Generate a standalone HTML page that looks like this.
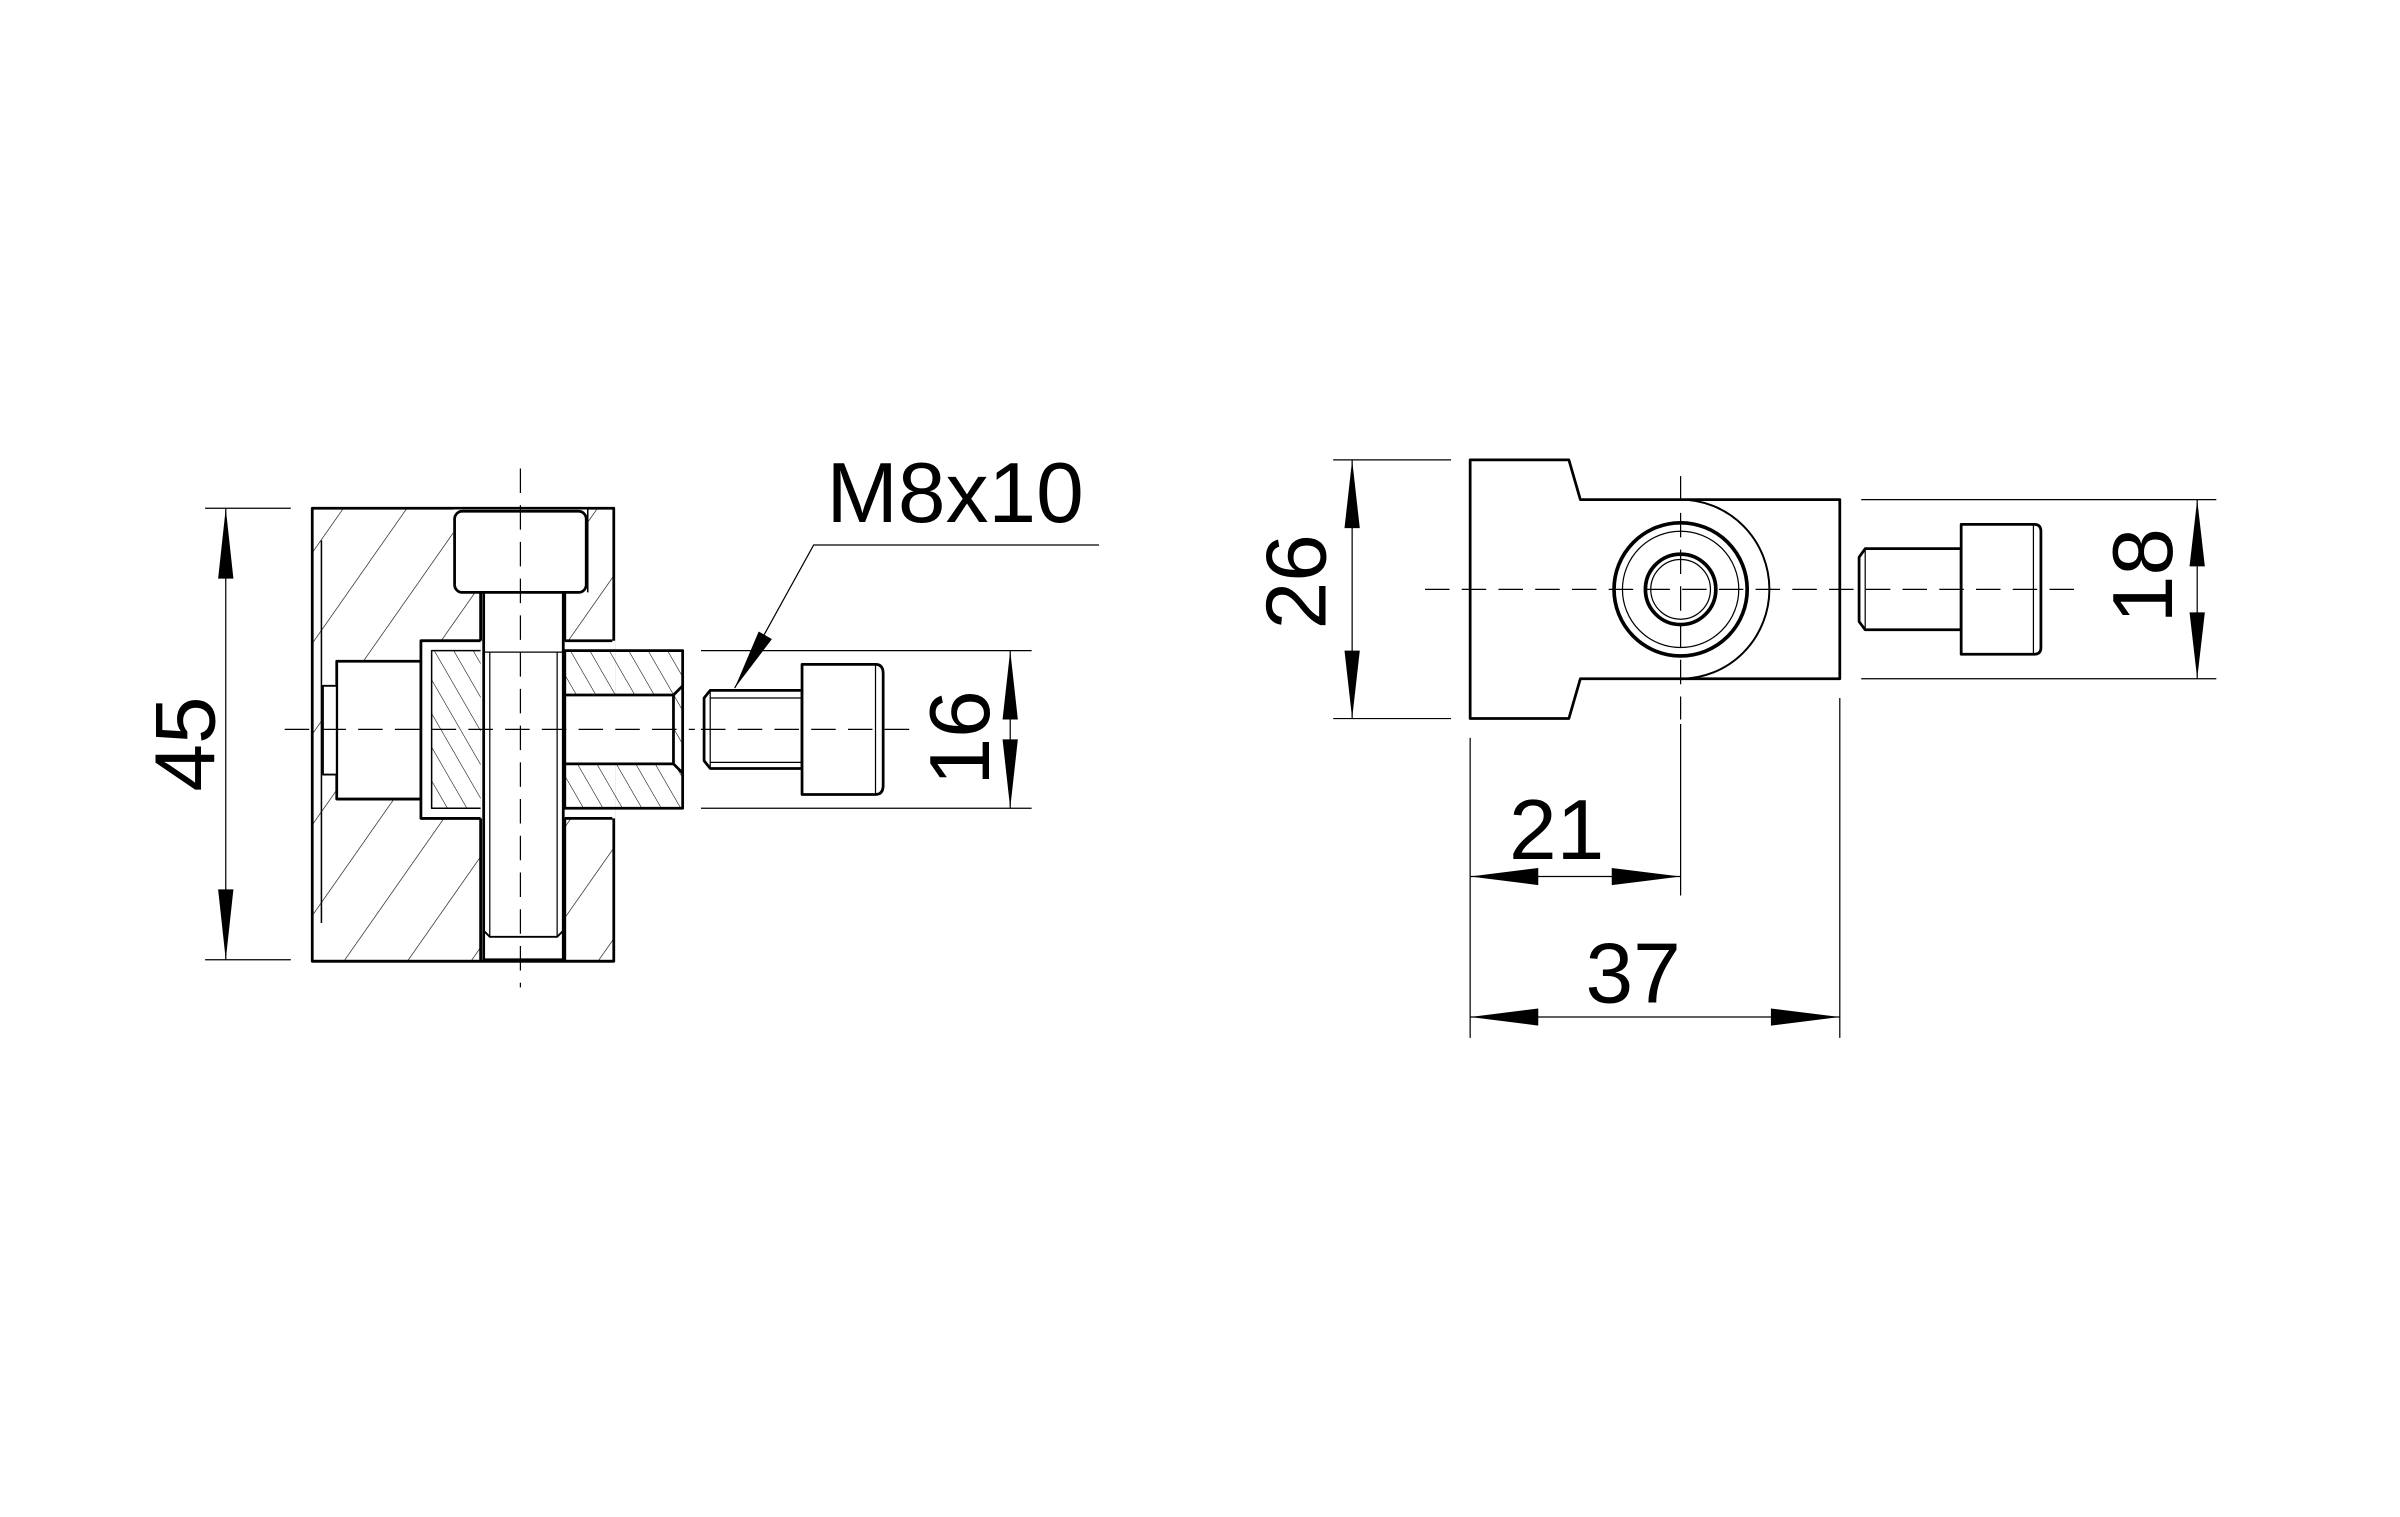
<!DOCTYPE html>
<html><head><meta charset="utf-8"><style>
html,body{margin:0;padding:0;background:#fff;}
svg{display:block;}
text{font-family:"Liberation Sans",sans-serif;font-size:56px;fill:#000;}
</style></head><body>
<svg width="2400" height="1517" viewBox="0 0 1568 991" xmlns="http://www.w3.org/2000/svg">
<defs>
<pattern id="hw" patternUnits="userSpaceOnUse" width="34" height="34" patternTransform="rotate(35)">
<line x1="0" y1="0" x2="0" y2="34" stroke="#000" stroke-width="0.8"/></pattern>
<pattern id="hn" patternUnits="userSpaceOnUse" width="11" height="11" patternTransform="rotate(-30)">
<line x1="0" y1="0" x2="0" y2="11" stroke="#000" stroke-width="0.7"/></pattern>
</defs>
<rect width="1568" height="991" fill="#fff"/>

<g fill="none" stroke="#000" stroke-width="1.8" stroke-linejoin="round">
<rect x="204" y="332" width="197" height="296" fill="url(#hw)"/>
<line x1="210" y1="353" x2="210" y2="603" stroke-width="1"/>
<rect x="275" y="418.6" width="126" height="116" fill="#fff" stroke="none"/>
<line x1="275" y1="418.6" x2="401" y2="418.6"/>
<line x1="275" y1="534.6" x2="401" y2="534.6"/>
<line x1="401" y1="418.6" x2="401" y2="534.6" stroke="#fff" stroke-width="2"/>
<rect x="220" y="432" width="55" height="90" fill="#fff"/>
<rect x="211" y="448" width="9" height="58" fill="#fff" stroke-width="1.2"/>
<rect x="275" y="418.6" width="40" height="116" fill="#fff"/>
<rect x="282" y="425" width="33" height="103" fill="url(#hn)" stroke-width="1"/>
<rect x="296" y="332.8" width="88" height="55" fill="#fff" stroke="none"/>
<rect x="314" y="387" width="55" height="240" fill="#fff" stroke="none"/>
<line x1="314" y1="387" x2="314" y2="418.6"/>
<line x1="369" y1="387" x2="369" y2="418.6"/>
<line x1="384" y1="332" x2="384" y2="387" stroke-width="1"/>
<line x1="314" y1="534.6" x2="314" y2="628"/>
<line x1="369" y1="534.6" x2="369" y2="628"/>
<rect x="369" y="425" width="77" height="103" fill="url(#hn)"/>
<rect x="369" y="454" width="71" height="45" fill="#fff"/>
<line x1="440" y1="454" x2="446" y2="448"/>
<line x1="440" y1="499" x2="446" y2="505"/>
<rect x="297" y="334" width="86" height="53" rx="5" fill="#fff"/>
<rect x="316" y="387" width="52" height="240" fill="#fff"/>
<line x1="320" y1="426" x2="320" y2="612" stroke-width="0.8"/>
<line x1="364" y1="426" x2="364" y2="612" stroke-width="0.8"/>
<line x1="316" y1="426" x2="368" y2="426" stroke-width="0.8"/>
<path d="M316 608 L320 612 L364 612 L368 608" stroke-width="1.2"/>
<line x1="204" y1="628" x2="401" y2="628"/>
<path d="M464 451 L524 451 L524 502 L464 502 L460 497 L460 456 Z" fill="#fff"/>
<line x1="464" y1="451" x2="464" y2="502" stroke-width="0.8"/>
<line x1="464" y1="456" x2="537" y2="456" stroke-width="0.8"/>
<line x1="464" y1="498" x2="537" y2="498" stroke-width="0.8"/>
<line x1="537" y1="456" x2="537" y2="498" stroke-width="0.8"/>
<path d="M524 434 L572 434 Q577 434 577 440 L577 513 Q577 519 572 519 L524 519 Z" fill="#fff"/>
<line x1="572" y1="434" x2="572" y2="519" stroke-width="0.8"/>

<path d="M960.5 300.4 L1025 300.4 L1032.5 326.4 L1202 326.4 L1202 443.4 L1032.5 443.4 L1025 469.4 L960.5 469.4 Z" fill="#fff"/>
<path d="M1098 326.4 A58 58.5 0 0 1 1098 443.4" stroke-width="1.3"/>
<circle cx="1098" cy="385" r="43.5" stroke-width="2.4"/>
<circle cx="1098" cy="385" r="38" stroke-width="0.8"/>
<circle cx="1098" cy="385" r="23" stroke-width="2.4"/>
<circle cx="1098" cy="385" r="19.5" stroke-width="0.8"/>
<path d="M1218.6 358.4 L1281.3 358.4 L1281.3 411.4 L1218.6 411.4 L1214.6 406 L1214.6 364 Z" fill="#fff"/>
<line x1="1218.6" y1="358.4" x2="1218.6" y2="411.4" stroke-width="0.8"/>
<path d="M1281.3 342.5 L1329 342.5 Q1333.4 342.5 1333.4 347 L1333.4 423 Q1333.4 427.4 1329 427.4 L1281.3 427.4 Z" fill="#fff"/>
<line x1="1328.5" y1="342.5" x2="1328.5" y2="427.4" stroke-width="0.8"/>
</g>

<g fill="none" stroke="#000" stroke-width="0.8">
<g stroke-dasharray="16 8">
<line x1="186" y1="476.5" x2="454" y2="476.5"/>
<line x1="458" y1="476.5" x2="600" y2="476.5"/>
<line x1="340" y1="306" x2="340" y2="645"/>
<line x1="931" y1="385" x2="1356" y2="385"/>
<line x1="1098" y1="311" x2="1098" y2="470"/>
</g>
<line x1="134" y1="332" x2="190" y2="332"/><line x1="134" y1="627" x2="190" y2="627"/>
<line x1="147.5" y1="332" x2="147.5" y2="627"/>
<line x1="458" y1="425" x2="674" y2="425"/><line x1="458" y1="528" x2="674" y2="528"/>
<line x1="660" y1="425" x2="660" y2="528"/>
<polyline points="480,449.5 531.6,356 718,356"/>
<line x1="871" y1="300.4" x2="948" y2="300.4"/><line x1="871" y1="469.4" x2="948" y2="469.4"/>
<line x1="883.4" y1="300.4" x2="883.4" y2="469.4"/>
<line x1="1216" y1="326.4" x2="1448" y2="326.4"/><line x1="1216" y1="443.4" x2="1448" y2="443.4"/>
<line x1="1435.5" y1="326.4" x2="1435.5" y2="443.4"/>
<line x1="960.5" y1="482" x2="960.5" y2="678"/>
<line x1="1202" y1="456" x2="1202" y2="678"/>
<line x1="1098" y1="473" x2="1098" y2="585"/>
<line x1="960.5" y1="572.6" x2="1098" y2="572.6"/>
<line x1="960.5" y1="664.4" x2="1202" y2="664.4"/>
</g>

<g fill="#000" stroke="none">
<polygon points="147.5,332 142.5,378 152.5,378"/>
<polygon points="147.5,627 142.5,581 152.5,581"/>
<polygon points="660,425 655,470 665,470"/>
<polygon points="660,528 655,483 665,483"/>
<polygon points="480,449.5 504.3,417.5 495.7,412.5"/>
<polygon points="883.4,300.4 878.4,345 888.4,345"/>
<polygon points="883.4,469.4 878.4,425 888.4,425"/>
<polygon points="1435.5,326.4 1430.5,370 1440.5,370"/>
<polygon points="1435.5,443.4 1430.5,400 1440.5,400"/>
<polygon points="960.5,572.6 1005,567 1005,578.2"/>
<polygon points="1098,572.6 1053,567 1053,578.2"/>
<polygon points="960.5,664.4 1005,658.8 1005,670"/>
<polygon points="1202,664.4 1157,658.8 1157,670"/>
</g>

<text x="540" y="341">M8x10</text>
<text transform="translate(120,486) rotate(-90)" text-anchor="middle" y="20">45</text>
<text transform="translate(626,482) rotate(-90)" text-anchor="middle" y="20">16</text>
<text transform="translate(846,380) rotate(-90)" text-anchor="middle" y="20">26</text>
<text transform="translate(1399,376) rotate(-90)" text-anchor="middle" y="20">18</text>
<text x="1017" y="561" text-anchor="middle">21</text>
<text x="1067" y="655" text-anchor="middle">37</text>
</svg>
</body></html>
